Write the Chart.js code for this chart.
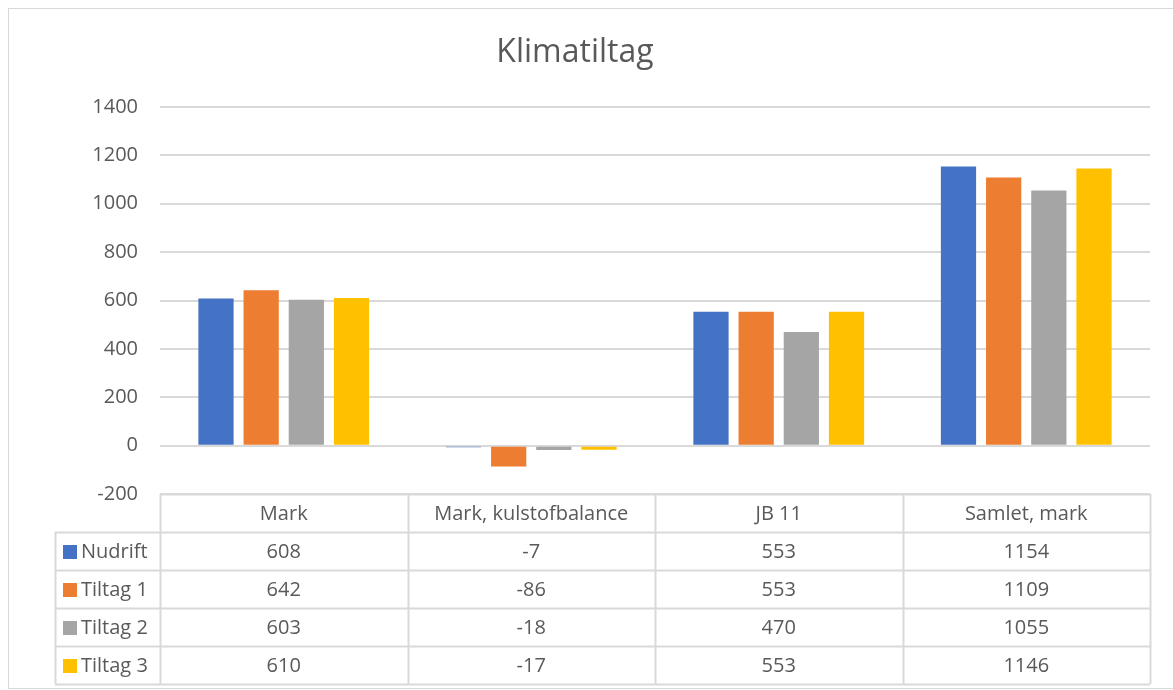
<!DOCTYPE html>
<html>
<head>
<meta charset="utf-8">
<script src="https://cdn.jsdelivr.net/npm/chart.js@4.4.1/dist/chart.umd.min.js"></script>
<style>
    html, body { margin: 0; padding: 0; background: #fff; }
    #wrap { width: 1173px; height: 690px; position: relative; }
</style>
</head>
<body>
<div id="wrap"><canvas id="chart"></canvas></div>
<script>
// Data
const categories = ['Mark', 'Mark, kulstofbalance', 'JB 11', 'Samlet, mark'];
const seriesNames = ['Nudrift', 'Tiltag 1', 'Tiltag 2', 'Tiltag 3'];
const nudrift = [608, -7, 553, 1154];
const tiltag1 = [642, -86, 553, 1109];
const tiltag2 = [603, -18, 470, 1055];
const tiltag3 = [610, -17, 553, 1146];
const colors = ['#4472C4', '#ED7D31', '#A5A5A5', '#FFC000'];

const FONT = '"Open Sans", Lato, sans-serif';
const TEXT = '#595959';
const GRID = '#d9d9d9';

const seriesValues = [nudrift, tiltag1, tiltag2, tiltag3];

// Draws the frame and the data table under the plot area
const dataTablePlugin = {
    id: 'dataTable',
    afterDraw(chart) {
        const ctx = chart.ctx;
        const area = chart.chartArea;
        const x = chart.scales.x;
        const rowH = 38;
        const headH = 38;
        const legendLeft = 55;
        const top = area.bottom;

        ctx.save();
        // outer chart frame
        ctx.strokeStyle = GRID;
        ctx.lineWidth = 1;
        ctx.strokeRect(8.5, 8.5, 1180, 680);

        // column edges from category scale
        const half = (x.getPixelForValue(1) - x.getPixelForValue(0)) / 2;
        const edges = [x.getPixelForValue(0) - half];
        categories.forEach((c, i) => edges.push(x.getPixelForValue(i) + half));
        const tableBottom = top + headH + rowH * seriesNames.length;

        ctx.beginPath();
        ctx.moveTo(edges[0], top + 0.5);
        ctx.lineTo(edges[edges.length - 1], top + 0.5);
        for (let r = 0; r <= seriesNames.length; r++) {
            const y = Math.round(top + headH + rowH * r) + 0.5;
            ctx.moveTo(legendLeft, y);
            ctx.lineTo(edges[edges.length - 1], y);
        }
        edges.forEach(e => {
            ctx.moveTo(Math.round(e) + 0.5, top);
            ctx.lineTo(Math.round(e) + 0.5, tableBottom);
        });
        ctx.moveTo(legendLeft + 0.5, top + headH);
        ctx.lineTo(legendLeft + 0.5, tableBottom);
        ctx.strokeStyle = GRID;
        ctx.lineWidth = 2;
        ctx.stroke();

        // header text
        ctx.fillStyle = TEXT;
        ctx.font = '20px ' + FONT;
        ctx.textAlign = 'center';
        ctx.textBaseline = 'middle';
        categories.forEach((cat, i) => {
            ctx.fillText(cat, x.getPixelForValue(i), top + headH / 2 + 1);
        });

        // rows with legend keys
        seriesNames.forEach((name, r) => {
            const yMid = top + headH + rowH * r + rowH / 2 + 1;
            ctx.fillStyle = colors[r];
            ctx.fillRect(legendLeft + 8, yMid - 7, 14, 14);
            ctx.fillStyle = TEXT;
            ctx.textAlign = 'left';
            ctx.fillText(name, legendLeft + 26, yMid);
            ctx.textAlign = 'center';
            seriesValues[r].forEach((v, i) => {
                ctx.fillText(String(v), x.getPixelForValue(i), yMid);
            });
        });
        ctx.restore();
    }
};

new Chart(document.getElementById('chart'), {
    type: 'bar',
    data: {
        labels: categories,
        datasets: seriesNames.map((name, i) => ({
            label: name,
            data: seriesValues[i],
            backgroundColor: colors[i],
            borderWidth: 0,
            barPercentage: 0.78,
            categoryPercentage: 0.73
        }))
    },
    options: {
        responsive: true,
        maintainAspectRatio: false,
        animation: false,
        layout: {
            padding: { top: 22, right: 23, bottom: 196, left: 0 }
        },
        plugins: {
            legend: { display: false },
            tooltip: { enabled: false },
            title: {
                display: true,
                text: 'Klimatiltag',
                color: TEXT,
                font: { family: FONT, size: 32, weight: 'normal' },
                padding: { top: 12, bottom: 34.6 }
            }
        },
        scales: {
            x: {
                display: false
            },
            y: {
                min: -200,
                max: 1400,
                ticks: {
                    stepSize: 200,
                    color: TEXT,
                    font: { family: FONT, size: 20 },
                    padding: 22,
                    callback: v => String(v)
                },
                border: { display: false },
                grid: {
                    color: GRID,
                    lineWidth: 2,
                    drawTicks: false
                },
                afterFit(scale) { scale.width = 160; }
            }
        }
    },
    plugins: [dataTablePlugin]
});
</script>
</body>
</html>
